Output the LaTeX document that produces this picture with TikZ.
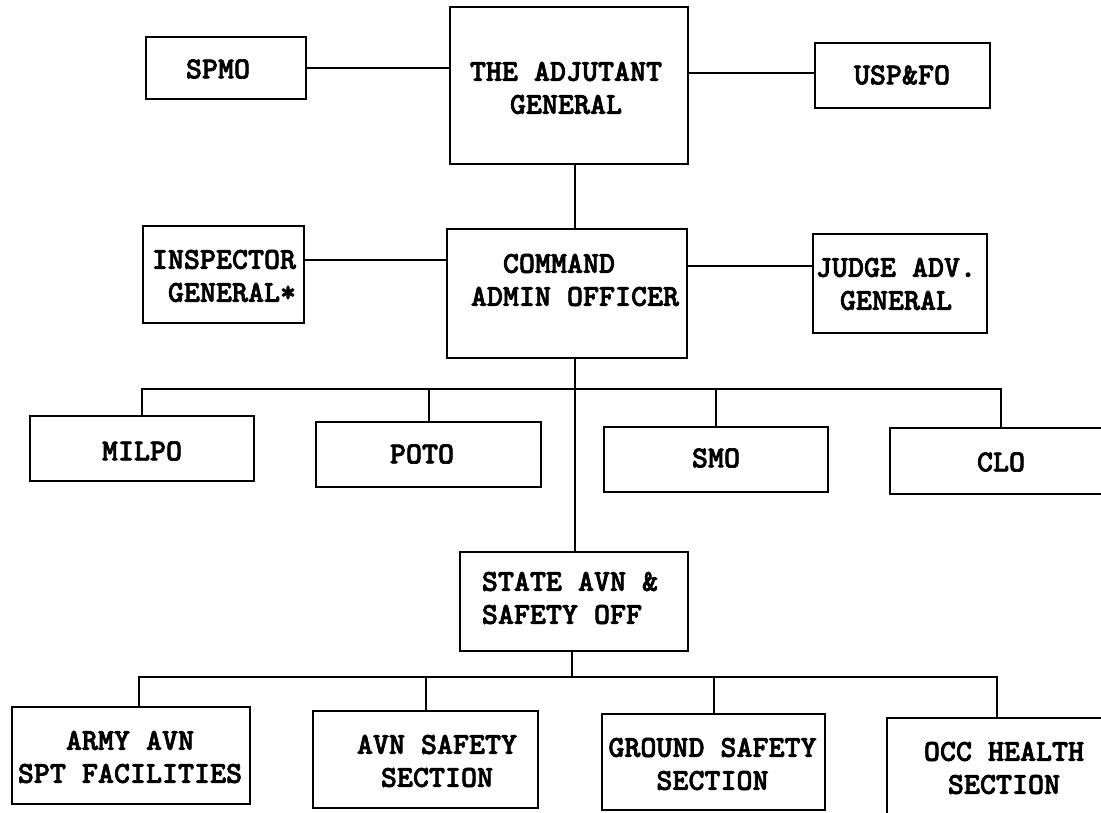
\documentclass[tikz,border=0pt]{standalone}
\usepackage{fontspec}
\newfontfamily\orgface{lmmonolt10-bold.otf}[FakeBold=2.2]
\newcommand\orgfont{\fontsize{30.5}{33}\selectfont\orgface}
\begin{document}
\begin{tikzpicture}[x=1pt,y=-1pt,
  box/.style={draw,line width=2pt,rectangle,inner sep=0pt,outer sep=0pt},
  txt/.style={font=\orgfont,align=center,inner sep=0pt},
  con/.style={line width=2pt}]
\useasboundingbox (0,0) rectangle (1101,813);
\fill[white] (0,0) rectangle (1101,813);
\clip (0,0) rectangle (1101,813);
% boxes
\node[box,minimum width=160pt,minimum height=62pt] (spmo) at (225.5,68) {};
\node[box,minimum width=238pt,minimum height=157pt] (tag) at (569,85.5) {};
\node[box,minimum width=175pt,minimum height=65pt] (usp) at (902.5,75.5) {};
\node[box,minimum width=161pt,minimum height=97pt] (ig) at (223.5,274.5) {};
\node[box,minimum width=240pt,minimum height=129pt] (cao) at (567,293.5) {};
\node[box,minimum width=174pt,minimum height=99pt] (jag) at (900,283.5) {};
\node[box,minimum width=224pt,minimum height=65pt] (milpo) at (142,448) {};
\node[box,minimum width=225pt,minimum height=65pt] (poto) at (428.5,454.5) {};
\node[box,minimum width=224pt,minimum height=65pt] (smo) at (716,459.5) {};
\node[box,minimum width=222pt,minimum height=66pt] (clo) at (1001,461) {};
\node[box,minimum width=228pt,minimum height=99pt] (state) at (574,601.5) {};
\node[box,minimum width=238pt,minimum height=97pt] (army) at (131,755) {};
\node[box,minimum width=225pt,minimum height=97pt] (avns) at (425.5,759.5) {};
\node[box,minimum width=223pt,minimum height=96pt] (ground) at (713.5,762) {};
\node[box,minimum width=228pt,minimum height=122pt] (occ) at (1001,779) {};
% texts
\node[txt] (spmoT) at (218,69) {SPMO};
\node[txt] (tagT) at (566,88) {THE ADJUTANT\\GENERAL};
\node[txt] (uspT) at (902,75) {USP\&FO};
\node[txt,align=right] (igT) at (224,276) {INSPECTOR\\GENERAL*};
\node[txt,align=left] (caoT) at (575,280) {\hphantom{MM}COMMAND\\ADMIN OFFICER};
\node[txt] (jagT) at (896,284) {JUDGE ADV.\\GENERAL};
\node[txt] (milpoT) at (142,451) {MILPO};
\node[txt] (potoT) at (422,454) {POTO};
\node[txt] (smoT) at (716,458) {SMO};
\node[txt] (cloT) at (1001,462) {CLO};
\node[txt,align=left] (stateT) at (570,598) {STATE AVN \&\\SAFETY OFF};
\node[txt] (armyT) at (130,757) {ARMY AVN\\SPT FACILITIES};
\node[txt] (avnsT) at (437,761) {AVN SAFETY\\SECTION};
\node[txt] (groundT) at (712.5,764) {GROUND SAFETY\\SECTION};
\node[txt] (occT) at (1004,768) {OCC HEALTH\\SECTION};
% connectors
\coordinate (sp) at (575,0);
\coordinate (b1) at (575,389);
\coordinate (b2) at (572,677);
\draw[con] (spmo.east) -- (spmo.east -| tag.west);
\draw[con] ([yshift=2.5pt]usp.west -| tag.east) -- ([yshift=2.5pt]usp.west);
\draw[con] (tag.south -| sp) -- (cao.north -| sp);
\draw[con] ([yshift=14.5pt]ig.east) -- ([yshift=14.5pt]ig.east -| cao.west);
\draw[con] ([yshift=17pt]jag.west -| cao.east) -- ([yshift=17pt]jag.west);
\draw[con] (cao.south -| sp) -- (state.north -| sp);
\draw[con] (milpo.north) |- (b1);
\draw[con] (poto.north) |- (b1);
\draw[con] (smo.north) |- (b1);
\draw[con] (clo.north) |- (b1);
\draw[con] (state.south -| b2) -- (b2);
\draw[con] ([xshift=8pt]army.north) |- (b2);
\draw[con] (avns.north) |- (b2);
\draw[con] (ground.north) |- (b2);
\draw[con] ([xshift=-4pt]occ.north) |- (b2);
\end{tikzpicture}
\end{document}
